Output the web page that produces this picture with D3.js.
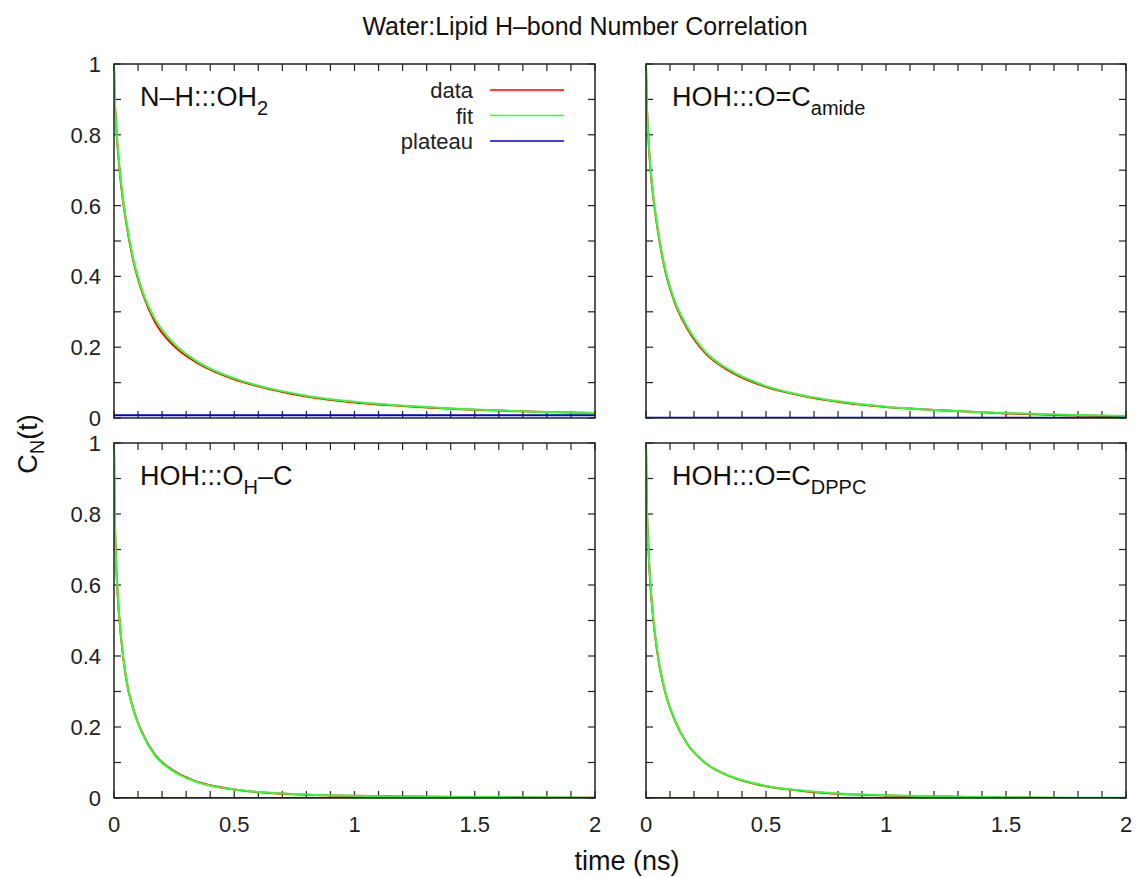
<!DOCTYPE html>
<html>
<head>
<meta charset="utf-8">
<script src="https://cdn.jsdelivr.net/npm/d3@7"></script>
<style>
  body { margin: 0; background: #fff; }
  svg { font-family: "Liberation Sans", Arial, sans-serif; }
</style>
</head>
<body>
<svg width="1139" height="877"></svg>
<script>
// time points (ns)
const times = [0, 0.003, 0.008, 0.015, 0.03, 0.05, 0.08, 0.12, 0.17, 0.25, 0.35, 0.5, 0.65, 0.8, 1.0, 1.25, 1.5, 1.75, 2.0];

// panel labels: [main, subscript, tail]
const panelNames = [
  ["N\u2013H:::OH", "2", ""],
  ["HOH:::O=C", "amide", ""],
  ["HOH:::O", "H", "\u2013C"],
  ["HOH:::O=C", "DPPC", ""]
];

const fitNH = [1.0, 0.91, 0.84, 0.77, 0.66, 0.56, 0.45, 0.355, 0.28, 0.21, 0.158, 0.112, 0.083, 0.063, 0.046, 0.033, 0.024, 0.018, 0.014];
const dataNH = [1.0, 0.905, 0.835, 0.765, 0.655, 0.555, 0.445, 0.35, 0.272, 0.203, 0.154, 0.109, 0.081, 0.061, 0.044, 0.032, 0.023, 0.018, 0.014];
const fitAmide = [1.0, 0.90, 0.82, 0.74, 0.63, 0.53, 0.42, 0.33, 0.26, 0.185, 0.135, 0.09, 0.064, 0.047, 0.032, 0.021, 0.014, 0.009, 0.006];
const dataAmide = [1.0, 0.895, 0.815, 0.735, 0.625, 0.526, 0.416, 0.326, 0.255, 0.181, 0.132, 0.088, 0.063, 0.046, 0.031, 0.021, 0.013, 0.008, 0.005];
const fitOH = [1.0, 0.82, 0.68, 0.58, 0.45, 0.34, 0.25, 0.178, 0.12, 0.074, 0.044, 0.024, 0.015, 0.010, 0.006, 0.004, 0.003, 0.002, 0.001];
const dataOH = [1.0, 0.815, 0.675, 0.575, 0.447, 0.338, 0.251, 0.18, 0.122, 0.076, 0.045, 0.024, 0.014, 0.009, 0.006, 0.004, 0.002, 0.001, 0.001];
const fitDPPC = [1.0, 0.85, 0.74, 0.64, 0.51, 0.40, 0.30, 0.22, 0.155, 0.098, 0.062, 0.034, 0.021, 0.013, 0.008, 0.004, 0.002, 0.001, 0.0005];
const dataDPPC = [1.0, 0.845, 0.735, 0.635, 0.506, 0.397, 0.298, 0.219, 0.154, 0.097, 0.061, 0.033, 0.020, 0.012, 0.007, 0.004, 0.001, 0.0, 0.0];
const plateaus = [0.008, 0.001, 0.0, 0.0];

const dataSets = [dataNH, dataAmide, dataOH, dataDPPC];
const fitSets = [fitNH, fitAmide, fitOH, fitDPPC];

const legendNames = ["data", "fit", "plateau"];
const colors = { data: "#ff0000", fit: "#33ff33", plateau: "#0000cc" };

const xTicks = d3.range(0, 2.01, 0.1);
const yTicks = d3.range(0, 1.01, 0.1);
const xLabels = [0, 0.5, 1, 1.5, 2];
const yLabels = [0, 0.2, 0.4, 0.6, 0.8, 1];

const svg = d3.select("svg");

// panel frames: column x ranges and row y ranges
const cols = [[114, 595], [646, 1126]];
const rows = [[64, 418], [443, 798]];

panelNames.forEach((name, i) => {
  const col = i % 2, row = Math.floor(i / 2);
  const x = d3.scaleLinear().domain([0, 2]).range(cols[col]);
  const y = d3.scaleLinear().domain([0, 1]).range([rows[row][1], rows[row][0]]);
  const g = svg.append("g");

  // ticks on all four sides, pointing inward
  const tickLen = 7;
  const tk = g.append("g").attr("stroke", "#222").attr("stroke-width", 1.2);
  xTicks.forEach(t => {
    tk.append("line").attr("x1", x(t)).attr("x2", x(t)).attr("y1", y(0)).attr("y2", y(0) - tickLen);
    tk.append("line").attr("x1", x(t)).attr("x2", x(t)).attr("y1", y(1)).attr("y2", y(1) + tickLen);
  });
  yTicks.forEach(t => {
    tk.append("line").attr("x1", x(0)).attr("x2", x(0) + tickLen).attr("y1", y(t)).attr("y2", y(t));
    tk.append("line").attr("x1", x(2)).attr("x2", x(2) - tickLen).attr("y1", y(t)).attr("y2", y(t));
  });

  if (col === 0) {
    g.selectAll(".yl").data(yLabels).enter().append("text")
      .attr("x", x(0) - 13).attr("y", d => y(d) + 8)
      .attr("text-anchor", "end").attr("font-size", 22).attr("fill", "#222")
      .text(d => d);
  }
  if (row === 1) {
    g.selectAll(".xl").data(xLabels).enter().append("text")
      .attr("x", d => x(d)).attr("y", y(0) + 34)
      .attr("text-anchor", "middle").attr("font-size", 22).attr("fill", "#222")
      .text(d => d);
  }

  const line = d3.line().x((d, j) => x(times[j])).y(d => y(d)).curve(d3.curveMonotoneX);
  const clipId = "clip" + i;
  g.append("clipPath").attr("id", clipId).append("rect")
    .attr("x", x(0)).attr("y", y(1)).attr("width", x(2) - x(0)).attr("height", y(0) - y(1));
  const curves = g.append("g").attr("clip-path", `url(#${clipId})`);
  curves.append("path").datum(dataSets[i]).attr("d", line)
    .attr("fill", "none").attr("stroke", colors.data).attr("stroke-width", 2);
  curves.append("path").datum(fitSets[i]).attr("d", line)
    .attr("fill", "none").attr("stroke", colors.fit).attr("stroke-width", 2);
  curves.append("line").attr("x1", x(0)).attr("x2", x(2))
    .attr("y1", y(plateaus[i])).attr("y2", y(plateaus[i]))
    .attr("stroke", colors.plateau).attr("stroke-width", 2);

  // frame
  g.append("rect").attr("x", x(0)).attr("y", y(1))
    .attr("width", x(2) - x(0)).attr("height", y(0) - y(1))
    .attr("fill", "none").attr("stroke", "#222").attr("stroke-width", 1.5);

  // panel label
  const lbl = g.append("text").attr("x", x(0) + 26).attr("y", y(1) + 42)
    .attr("font-size", 27).attr("fill", "#111");
  lbl.append("tspan").text(name[0]);
  lbl.append("tspan").attr("dy", 9).attr("font-size", 20).text(name[1]);
  if (name[2]) lbl.append("tspan").attr("dy", -9).text(name[2]);

  // legend in first panel
  if (i === 0) {
    legendNames.forEach((n, k) => {
      const ly = 90 + k * 25.5;
      g.append("text").attr("x", 473).attr("y", ly + 8).attr("text-anchor", "end")
        .attr("font-size", 22).attr("fill", "#222").text(n);
      g.append("line").attr("x1", 490).attr("x2", 564).attr("y1", ly).attr("y2", ly)
        .attr("stroke", colors[n]).attr("stroke-width", 1.6);
    });
  }
});

// title and axis labels
svg.append("text").attr("x", 585).attr("y", 35).attr("text-anchor", "middle")
  .attr("font-size", 25).attr("fill", "#111").text("Water:Lipid H\u2013bond Number Correlation");

svg.append("text").attr("x", 627).attr("y", 870).attr("text-anchor", "middle")
  .attr("font-size", 27).attr("fill", "#111").text("time (ns)");

const yl = svg.append("text").attr("transform", "translate(37,444) rotate(-90)")
  .attr("text-anchor", "middle").attr("font-size", 27).attr("fill", "#111");
yl.append("tspan").text("C");
yl.append("tspan").attr("dy", 7).attr("font-size", 20).text("N");
yl.append("tspan").attr("dy", -7).text("(t)");
</script>
</body>
</html>
